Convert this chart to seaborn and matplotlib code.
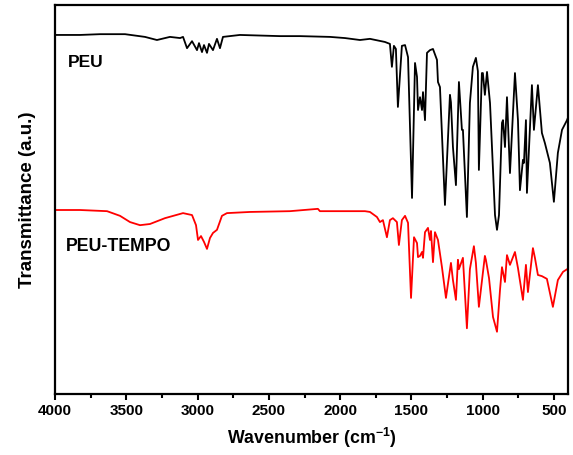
import matplotlib
matplotlib.use("Agg")
import matplotlib.pyplot as plt
import seaborn as sns
import pandas as pd
from matplotlib.ticker import MultipleLocator

# ---- data ----
peu_wavenumber = [4000, 3825, 3684, 3509, 3369, 3285, 3194, 3123,
                  3102, 3074, 3039, 3004, 2990, 2969, 2955, 2934, 2920, 2892, 2864, 2843, 2822,
                  2703, 2422, 2282, 2071, 1966, 1861, 1791,
                  1686, 1651, 1637, 1623, 1609, 1595, 1567, 1545, 1524, 1496, 1475, 1461,
                  1454, 1440, 1426, 1419, 1405, 1391, 1370, 1349, 1321, 1314, 1300, 1265,
                  1230, 1223, 1209, 1188, 1167, 1146, 1139, 1111, 1090, 1069, 1048, 1034,
                  1027, 1006, 999, 985, 970, 949, 928, 914, 900, 886, 865, 858, 844, 830, 809,
                  774, 753, 739, 718, 711, 697, 690, 655, 641, 613, 585, 564, 529, 501,
                  473, 444, 409, 395]
peu_transmittance = [92.3, 92.3, 92.5, 92.5, 91.8, 91.0, 91.8, 91.5,
                     91.8, 88.9, 90.7, 88.4, 90.2, 87.9, 89.7, 87.7, 90.0, 88.4, 91.3, 88.9, 91.8,
                     92.3, 92.0, 92.0, 91.8, 91.5, 91.0, 91.3,
                     90.5, 90.0, 84.1, 89.5, 88.7, 73.8, 89.5, 89.7, 86.6, 50.4, 85.1, 81.5,
                     73.0, 76.3, 73.0, 77.6, 70.4, 87.7, 88.4, 88.7, 85.9, 80.2, 78.9, 48.6,
                     76.9, 75.0, 63.5, 53.7, 80.2, 67.9, 67.9, 45.5, 74.8, 84.1, 86.4, 83.0,
                     57.6, 82.5, 82.5, 76.9, 82.8, 74.8, 57.6, 46.0, 42.2, 46.0, 69.7, 70.4, 63.5, 76.3, 56.8,
                     82.5, 70.4, 52.4, 60.2, 59.4, 70.4, 51.7, 79.4, 67.9, 79.4, 67.1, 64.5, 59.4, 49.4,
                     62.0, 67.9, 70.4, 71.7]

tempo_wavenumber = [4000, 3825, 3635, 3544, 3474, 3404, 3334, 3229, 3102, 3039, 3011,
                    2997, 2976, 2955, 2934, 2913, 2892, 2864, 2829, 2794, 2632, 2352,
                    2156, 2142, 2001, 1826, 1791,
                    1742, 1721, 1700, 1672, 1651, 1630, 1602, 1588, 1567, 1545, 1524,
                    1503, 1482, 1461, 1454, 1440, 1426, 1419, 1405, 1384, 1370, 1363,
                    1349, 1335, 1314, 1286, 1258, 1223, 1209, 1188, 1174, 1167, 1139,
                    1111, 1090, 1062, 1048, 1027, 985, 978, 956, 928, 900, 879, 865,
                    844, 830, 809, 774, 753, 718, 697, 683, 648, 634, 613, 585, 550,
                    508, 473, 437, 395]
tempo_transmittance = [47.3, 47.3, 47.0, 45.8, 44.2, 43.4, 43.7, 45.2, 46.5, 46.0, 43.4,
                       39.6, 40.6, 39.1, 37.3, 40.1, 41.4, 42.2, 45.8, 46.5, 46.8, 47.0,
                       47.6, 47.0, 47.0, 47.0, 46.8,
                       45.5, 44.2, 44.7, 40.3, 44.7, 45.2, 44.2, 38.3, 44.7, 45.8, 44.0,
                       24.7, 40.3, 38.8, 35.2, 35.5, 36.5, 35.0, 41.6, 42.7, 39.6, 41.9,
                       33.9, 41.6, 39.6, 32.6, 24.7, 33.7, 29.3, 24.2, 34.5, 32.1, 35.0,
                       16.9, 32.1, 38.0, 33.7, 22.4, 35.5, 34.5, 29.8, 19.8, 16.0, 26.7, 32.6,
                       28.8, 35.7, 33.2, 36.5, 32.4, 24.2, 33.2, 26.2, 37.5, 35.0, 30.6, 30.3, 29.6,
                       22.4, 29.3, 31.4, 32.4]

series_names = ["PEU", "PEU-TEMPO"]
series_colors = ["#000000", "#ff0000"]

# ---- style ----
sns.set_theme(style="white")
plt.rcParams["font.family"] = ["Liberation Sans", "DejaVu Sans"]
plt.rcParams["font.weight"] = "bold"
plt.rcParams["text.color"] = "black"
plt.rcParams["axes.labelcolor"] = "black"
plt.rcParams["xtick.color"] = "black"
plt.rcParams["ytick.color"] = "black"
plt.rcParams["mathtext.fontset"] = "custom"
plt.rcParams["mathtext.rm"] = "Liberation Sans:bold"
plt.rcParams["mathtext.it"] = "Liberation Sans:bold"
plt.rcParams["mathtext.bf"] = "Liberation Sans:bold"

df = pd.concat([
    pd.DataFrame({"w": peu_wavenumber, "T": peu_transmittance, "s": series_names[0]}),
    pd.DataFrame({"w": tempo_wavenumber, "T": tempo_transmittance, "s": series_names[1]}),
])

fig = plt.figure(figsize=(5.73, 4.55), dpi=100)
ax = fig.add_axes([55 / 573, 1 - 394 / 455, 513 / 573, 389 / 455])

sns.lineplot(data=df, x="w", y="T", hue="s", palette=series_colors,
             estimator=None, sort=True, linewidth=1.3, legend=False, ax=ax)

ax.set_xlim(4000, 402)
ax.set_ylim(0, 100)
ax.xaxis.set_major_locator(MultipleLocator(500))
ax.xaxis.set_minor_locator(MultipleLocator(250))
ax.tick_params(axis="x", which="major", direction="out", length=4, width=1.5,
               labelsize=11, pad=3, bottom=True, colors="black")
ax.tick_params(axis="x", which="minor", direction="out", length=3, width=1.5, bottom=True,
               colors="black")
ax.set_yticks([])
for lab in ax.get_xticklabels():
    lab.set_fontweight("bold")
    lab.set_color("black")

for sp in ax.spines.values():
    sp.set_visible(True)
    sp.set_color("black")
    sp.set_linewidth(1.6)

ax.set_xlabel("Wavenumber (cm$^{-1}$)", fontsize=12.8, fontweight="bold", labelpad=6,
              color="black")
ax.set_ylabel("Transmittance (a.u.)", fontsize=13.5, fontweight="bold", labelpad=14,
              color="black")

ax.text(3910, 85.1, "PEU", fontsize=12.5, fontweight="bold", va="center", ha="left",
        color="black")
ax.text(3923, 37.8, "PEU-TEMPO", fontsize=12.8, fontweight="bold", va="center", ha="left",
        color="black")

fig.savefig("out.png", dpi=100)
